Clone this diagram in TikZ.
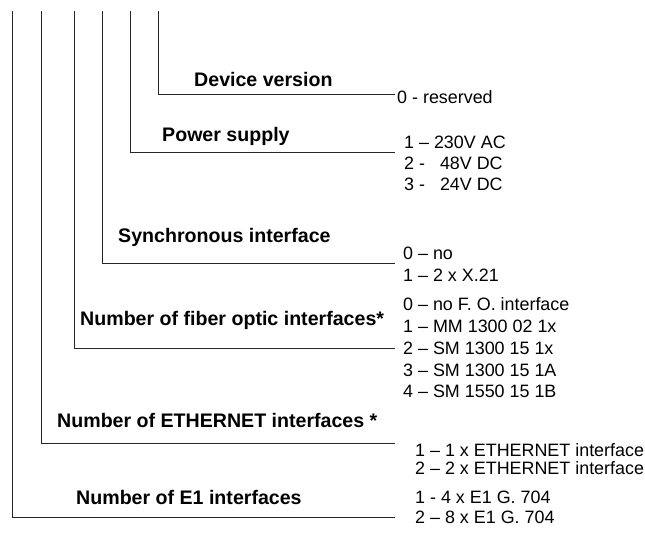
\documentclass[tikz,border=0pt]{standalone}
\usepackage{fontspec}
\setmainfont{Liberation Sans}
\begin{document}
\begin{tikzpicture}[x=1pt,y=-1pt,
  conn/.style={line width=0.9pt, draw=black!85},
  ttl/.style={font=\fontsize{19.6}{22}\selectfont\bfseries, inner sep=0pt, anchor=west, text height=14pt, text depth=0pt},
  opt/.style={font=\fontsize{17.9}{21}\selectfont, inner sep=0pt, anchor=west, text height=12.8pt, text depth=0pt}]
\path[use as bounding box] (0,0) rectangle (645,535);

% top points of the leader lines
\coordinate (t1) at (158,11);
\coordinate (t2) at (130,11);
\coordinate (t3) at (102,11);
\coordinate (t4) at (74,11);
\coordinate (t5) at (41,11);
\coordinate (t6) at (12,11);
% free ends
\coordinate (e1) at (395,94);
\coordinate (e2) at (395,152);
\coordinate (e3) at (395,263);
\coordinate (e4) at (395,348);
\coordinate (e5) at (395,443);
\coordinate (e6) at (395,517);

\draw[conn] (t1) |- (e1);
\draw[conn] (t2) |- (e2);
\draw[conn] (t3) |- (e3);
\draw[conn] (t4) |- (e4);
\draw[conn] (t5) |- (e5);
\draw[conn] (t6) |- (e6);

% titles
\node[ttl] (dv) at (194,79) {Device version};
\node[ttl] (ps) at (162,134) {Power supply};
\node[ttl] (si) at (118,235) {Synchronous interface};
\node[ttl] (fo) at (80,318) {Number of fiber optic interfaces*};
\node[ttl] (et) at (57,420) {Number of ETHERNET interfaces *};
\node[ttl] (e1t) at (76,497) {Number of E1 interfaces};

% options
\node[opt] (dv0) at (397,97) {0 - reserved};

\node[opt] (ps1) at (404,142) {1 -- 230V AC};
\node[opt] (ps2) at (404,163) {2 -\ \ \ 48V DC};
\node[opt] (ps3) at (404,184) {3 -\ \ \ 24V DC};

\node[opt] (si0) at (403,253) {0 -- no};
\node[opt] (si1) at (403,275) {1 -- 2 x X.21};

\node[opt] (fo0) at (403,304) {0 -- no F. O. interface};
\node[opt] (fo1) at (403,326) {1 -- MM 1300 02 1x};
\node[opt] (fo2) at (403,348) {2 -- SM 1300 15 1x};
\node[opt] (fo3) at (403,370) {3 -- SM 1300 15 1A};
\node[opt] (fo4) at (403,391) {4 -- SM 1550 15 1B};

\node[opt] (et1) at (415,450) {1 -- 1 x ETHERNET interface};
\node[opt] (et2) at (415,468) {2 -- 2 x ETHERNET interface};

\node[opt] (eo1) at (415,497) {1 - 4 x E1 G. 704};
\node[opt] (eo2) at (415,517) {2 -- 8 x E1 G. 704};
\end{tikzpicture}
\end{document}
